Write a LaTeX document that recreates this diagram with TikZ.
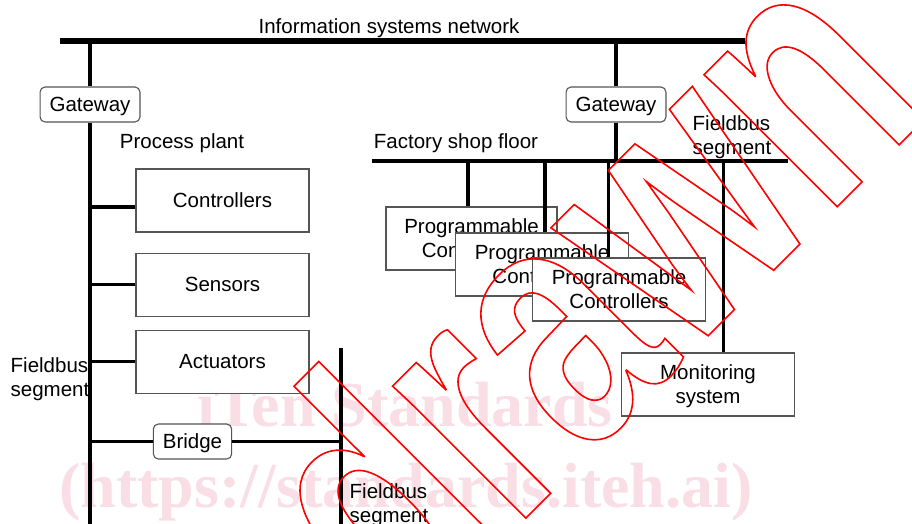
\documentclass[tikz,border=0pt]{standalone}
\usepackage{fontspec}
\setmainfont{Liberation Sans}
\newfontfamily\markfont{Liberation Serif}
\newfontfamily\stampfont[FakeStretch=0.72]{Liberation Sans}
\usetikzlibrary{positioning}
\definecolor{markcolor}{RGB}{249,222,230}
\definecolor{boxcolor}{RGB}{85,85,85}
\newcommand\outlineon{\special{pdf:literal direct 1 Tr 1.6 w}}
\newcommand\outlineoff{\special{pdf:literal direct 0 Tr}}

\begin{document}
\begin{tikzpicture}[%
    x=1pt, y=-1pt,              % work on the pixel grid, y going down
    node distance=20pt,         % gap between the plant boxes
    font=\fontsize{20.5}{24}\selectfont,
    ]
\tikzset{
  bus/.style={line width=5.5pt},
  wire/.style={line width=3.5pt},
  unit/.style={draw=boxcolor, line width=1.1pt, fill=white, align=center,
    minimum width=173pt, minimum height=63pt, inner sep=0pt},
  link/.style={draw=boxcolor, line width=1.1pt, fill=white, rounded corners=5pt,
    minimum height=35pt, inner xsep=9.5pt, inner ysep=0pt, text depth=0pt},
  lbl/.style={align=left, inner sep=0pt},
  wmtext/.style={text=markcolor, anchor=base, inner sep=0pt,
    font=\markfont\bfseries\fontsize{64}{70}\selectfont},
}
\useasboundingbox (0,0) rectangle (912,524);

% watermark
\node[wmtext] (wm1) at (405,426) {iTen Standards};
\node[wmtext] (wm2) at (406,507) {(https://standards.iteh.ai)};

% network
\node[inner sep=0pt] (net) at (389,28) {Information systems network};
\coordinate (busL) at (60,41);
\coordinate (busR) at (745,41);

% process plant
\node[link] (gw1) at (90,104.5) {Gateway};
\node[lbl] (pp) at (182,143) {Process plant};
\node[unit] (ctl) at (222.5,200.5) {Controllers};
\node[unit, below=of ctl] (sen) {Sensors};
\node[unit, below=13pt of sen] (act) {Actuators};
\node[link] (brg) at (192.5,441.5) {Bridge};
\node[lbl] (fb1) at (50,379) {Fieldbus\\segment};
\coordinate (trunk) at (92,524);
\coordinate (fb2top) at (341,348);
\coordinate (fb2bot) at (341,524);
\node[lbl] (fb2) at (389,505) {Fieldbus\\segment};

% factory shop floor
\node[link] (gw2) at (616,104.5) {Gateway};
\node[lbl] (sf) at (456,143) {Factory shop floor};
\node[lbl] (fb3) at (732,137) {Fieldbus\\segment};
\coordinate (sfL) at (372,161);
\coordinate (sfR) at (788,161);
\node[unit, minimum width=171pt] (plc1) at (471.5,238.5) {Programmable\\Controllers};
\node[unit] (plc2) at (542,264.5) {Programmable\\Controllers};
\node[unit] (plc3) at (619,289.5) {Programmable\\Controllers};
\node[unit, text depth=0pt] (mon) at (708,384.5) {Monitoring\\system};

%connect
\draw[bus] (busL) -- (busR);
\draw[wire] (gw1 |- busL) -- (gw1.north);
\draw[wire] (gw1.south) -- (gw1 |- trunk);
\draw[wire] ([yshift=-6.5pt]ctl.west) -- ([yshift=-6.5pt]ctl.west -| gw1);
\draw[wire] (sen.west) -- (sen.west -| gw1);
\draw[wire] (act.west) -- (act.west -| gw1);
\draw[wire] (fb2top) -- (fb2bot);
\draw[wire] (gw1 |- brg.west) -- (brg.west);
\draw[wire] (brg.east) -- (brg.east -| fb2top);

\draw[wire] (gw2 |- busL) -- (gw2.north);
\draw[wire] (gw2.south) -- (gw2 |- sfL);
\draw[wire] (sfL) -- (sfR);
\draw[wire] (468,161) -- (468,0 |- plc1.north);
\draw[wire] (545,161) -- (545,0 |- plc2.north);
\draw[wire] (608.5,161) -- (608.5,0 |- plc3.north);
\draw[wire] (723.5,161) -- (723.5,0 |- mon.north);

% stamp
\node[text=red, rotate=45, anchor=base east, inner sep=0pt,
  font=\stampfont\bfseries\fontsize{355}{355}\selectfont] (stamp) at (935,109) {\outlineon Withdrawn\outlineoff};
\end{tikzpicture}
\end{document}
